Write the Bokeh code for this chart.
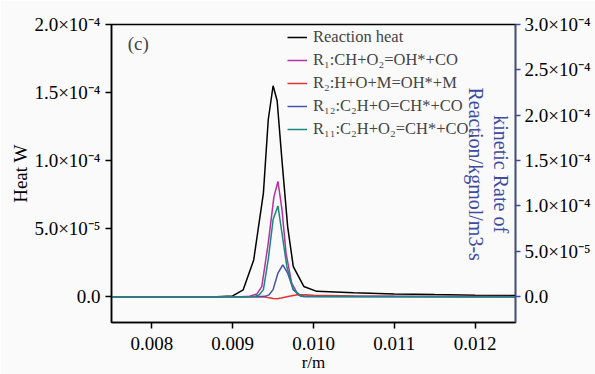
import math
from bokeh.plotting import figure
from bokeh.models import (LinearAxis, Range1d, FixedTicker, Legend, LegendItem,
                          Label, CustomJSTickFormatter)
from bokeh.embed import file_html
from bokeh.resources import INLINE

# ---------------- data ----------------
r_heat = [0.0075, 0.0088, 0.0090, 0.00913, 0.00926, 0.00938, 0.00944, 0.00950,
          0.00955, 0.00961, 0.00968, 0.00975, 0.00988, 0.01004, 0.0105, 0.0110,
          0.0115, 0.0120, 0.0125]
heat = [0, 0, 0.5e-6, 5e-6, 2.7e-5, 7.6e-5, 1.30e-4, 1.55e-4,
        1.44e-4, 1.0e-4, 5.15e-5, 2.2e-5, 7.5e-6, 3.9e-6, 2.8e-6, 2.0e-6,
        1.5e-6, 1.1e-6, 0.8e-6]

r_r1 = [0.0075, 0.0091, 0.00921, 0.00930, 0.00936, 0.00944, 0.00951, 0.00956,
        0.00961, 0.00966, 0.00973, 0.00981, 0.0099, 0.0125]
rate_r1 = [0, 0, 0.5e-6, 3e-6, 1.1e-5, 5.9e-5, 1.10e-4, 1.27e-4,
           9.6e-5, 4.8e-5, 1.5e-5, 2e-6, 0.3e-6, 0]

r_r2 = [0.0075, 0.0093, 0.0094, 0.0095, 0.00955, 0.0096, 0.0097, 0.0098,
        0.0099, 0.0100, 0.0105, 0.0110, 0.0120, 0.0125]
rate_r2 = [0, 0, -0.5e-6, -2e-6, -2.2e-6, -1.5e-6, 0.5e-6, 2e-6,
           2e-6, 1.5e-6, 0.8e-6, 0.5e-6, 0.2e-6, 0]

r_r12 = [0.0075, 0.0093, 0.00940, 0.00945, 0.00950, 0.00956, 0.00962, 0.00968,
         0.00975, 0.00984, 0.0099, 0.0125]
rate_r12 = [0, 0, 0.3e-6, 2e-6, 7.7e-6, 2.6e-5, 3.5e-5, 2.6e-5,
            7.7e-6, 0.5e-6, 0, 0]

r_r11 = [0.0075, 0.0092, 0.00928, 0.00933, 0.00938, 0.00944, 0.00950, 0.00956,
         0.00961, 0.00967, 0.00975, 0.00985, 0.0125]
rate_r11 = [0, 0, 0.5e-6, 2e-6, 7.7e-6, 4.1e-5, 8.5e-5, 1.0e-4,
            7.0e-5, 3.3e-5, 7.7e-6, 0.5e-6, 0]

legend_labels = ["Reaction heat",
                 "R\u2081:CH+O\u2082=OH*+CO",
                 "R\u2082:H+O+M=OH*+M",
                 "R\u2081\u2082:C\u2082H+O=CH*+CO",
                 "R\u2081\u2081:C\u2082H+O\u2082=CH*+CO\u2082"]

x_ticks = [0.008, 0.009, 0.010, 0.011, 0.012]
x_tick_labels = ["0.008", "0.009", "0.010", "0.011", "0.012"]
left_ticks = [0.0, 5e-5, 1.0e-4, 1.5e-4, 2.0e-4]
left_tick_labels = ["0.0", "5.0\u00d710\u207b\u2075", "1.0\u00d710\u207b\u2074",
                    "1.5\u00d710\u207b\u2074", "2.0\u00d710\u207b\u2074"]
right_ticks = [0.0, 5e-5, 1.0e-4, 1.5e-4, 2.0e-4, 2.5e-4, 3.0e-4]
right_tick_labels = ["0.0", "5.0\u00d710\u207b\u2075", "1.0\u00d710\u207b\u2074",
                     "1.5\u00d710\u207b\u2074", "2.0\u00d710\u207b\u2074",
                     "2.5\u00d710\u207b\u2074", "3.0\u00d710\u207b\u2074"]

# ---------------- styling ----------------
FONT = "Liberation Serif"
BLUE_AX = "#3d4ba0"
colors = ["black", "#b8309f", "#e83232", "#4452aa", "#17897f"]
BG = "#fafafa"


def fmt(vals, labs):
    return CustomJSTickFormatter(args=dict(vals=vals, labs=labs), code="""
        for (let i = 0; i < vals.length; i++) {
            if (Math.abs(tick - vals[i]) <= 1e-9 * Math.max(1e-12, Math.abs(vals[i])) + 1e-15) return labs[i];
        }
        return "";
    """)


p = figure(width=595, height=374, x_range=(0.0075, 0.0125), y_range=(-1.9e-5, 2.0e-4),
           output_backend="svg", toolbar_location=None,
           min_border_left=111, min_border_right=80, min_border_top=24, min_border_bottom=51)
p.extra_y_ranges = {"rate": Range1d(-2.85e-5, 3.0e-4)}

p.background_fill_color = BG
p.border_fill_color = BG
p.outline_line_color = "black"
p.outline_line_width = 1.5
p.grid.visible = False

# x axis
xa = p.xaxis[0]
xa.ticker = FixedTicker(ticks=x_ticks)
xa.formatter = fmt(x_ticks, x_tick_labels)
xa.axis_label = "r/m"
# left axis
ya = p.yaxis[0]
ya.ticker = FixedTicker(ticks=left_ticks)
ya.formatter = fmt(left_ticks, left_tick_labels)
ya.axis_label = "Heat W"

for ax in (xa, ya):
    ax.axis_line_color = "black"
    ax.axis_line_width = 1.5
    ax.major_tick_line_color = "black"
    ax.major_tick_line_width = 1.5
    ax.major_tick_out = 6
    ax.major_tick_in = 0
    ax.minor_tick_line_color = None
    ax.major_label_text_font = FONT
    ax.major_label_text_font_size = "19px"
    ax.major_label_text_color = "black"
    ax.axis_label_text_font = FONT
    ax.axis_label_text_font_size = "19px"
    ax.axis_label_text_font_style = "normal"
    ax.axis_label_text_color = "black"
xa.major_label_standoff = 8
xa.axis_label_standoff = 0
xa.axis_label_text_font_size = "17px"
ya.major_label_standoff = 5
ya.axis_label_standoff = 0

ra = LinearAxis(y_range_name="rate", ticker=FixedTicker(ticks=right_ticks),
                formatter=fmt(right_ticks, right_tick_labels))
ra.axis_line_color = BLUE_AX
ra.axis_line_width = 1.5
ra.major_tick_line_color = BLUE_AX
ra.major_tick_line_width = 1.5
ra.major_tick_out = 5
ra.major_tick_in = 0
ra.minor_tick_line_color = None
ra.major_label_text_font = FONT
ra.major_label_text_font_size = "19px"
ra.major_label_text_color = "black"
ra.major_label_standoff = 4
p.add_layout(ra, "right")

# curves
lw = 1.5
h0 = p.line(r_heat, heat, line_color=colors[0], line_width=lw)
h1 = p.line(r_r1, rate_r1, line_color=colors[1], line_width=lw, y_range_name="rate")
h2 = p.line(r_r2, rate_r2, line_color=colors[2], line_width=lw, y_range_name="rate")
h3 = p.line(r_r12, rate_r12, line_color=colors[3], line_width=lw, y_range_name="rate")
h4 = p.line(r_r11, rate_r11, line_color=colors[4], line_width=lw, y_range_name="rate")

legend = Legend(items=[LegendItem(label=l, renderers=[r]) for l, r in
                       zip(legend_labels, [h0, h1, h2, h3, h4])],
                location=(176, 183))
legend.background_fill_alpha = 0
legend.border_line_color = None
legend.label_text_font = FONT
legend.label_text_font_size = "16.5px"
legend.glyph_width = 20
legend.glyph_height = 20
legend.label_height = 20
legend.spacing = 3
legend.label_standoff = 6
legend.padding = 0
legend.margin = 0
p.add_layout(legend, "center")

# text annotations
p.add_layout(Label(x=0.00770, y=1.86e-4, text="(c)", text_font=FONT, text_font_size="19px",
                   text_baseline="middle", text_align="left"))
p.add_layout(Label(x=0.012319, y=9.0e-5, text="kinetic Rate of", angle=-math.pi / 2,
                   text_font=FONT, text_font_size="20px", text_color=BLUE_AX,
                   text_align="center", text_baseline="middle"))
p.add_layout(Label(x=0.012009, y=9.0e-5, text="Reaction/kgmol/m3-s", angle=-math.pi / 2,
                   text_font=FONT, text_font_size="20px", text_color=BLUE_AX,
                   text_align="center", text_baseline="middle"))

open("out.html", "w").write(file_html(p, INLINE))
